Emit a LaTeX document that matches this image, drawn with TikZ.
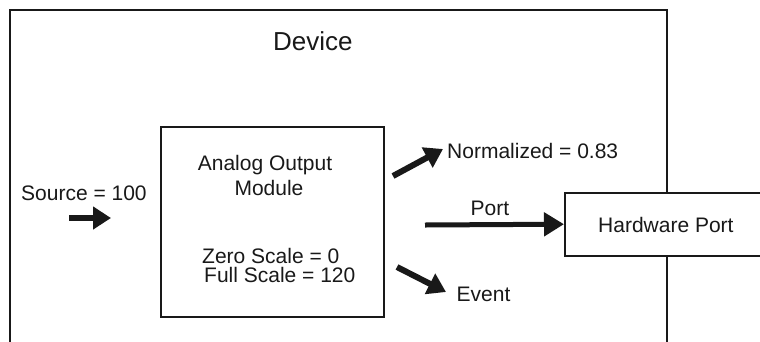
\documentclass[tikz,border=0pt]{standalone}
\usepackage{fontspec}
\setmainfont{Liberation Sans}
\usetikzlibrary{arrows.meta}
\begin{document}
\begin{tikzpicture}[x=1pt,y=-1pt,
  boxline/.style={draw=black!90,line width=2pt},
  lbl/.style={inner sep=0pt,anchor=base west,font=\fontsize{21}{24}\selectfont,text=black!90},
  bigarrow/.style={draw=black!90,line width=6pt,-{Triangle[length=18pt,width=22pt]}},
  midarrow/.style={draw=black!90,line width=5pt,-{Triangle[length=20pt,width=23pt]}}]
\useasboundingbox[fill=white] (0,0) rectangle (760,341);
% device
\draw[boxline] (9.5,350) -- (9.5,10) -- (666.5,10) -- (666.5,350);
\node[lbl,font=\fontsize{26}{30}\selectfont] (dev) at (273,50.7) {Device};
% module
\node[boxline,rectangle,minimum width=223pt,minimum height=189.5pt,inner sep=0pt] (mod) at (272.5,222) {};
\node[lbl,anchor=base] (ao) at (265,170) {Analog Output};
\node[lbl,anchor=base] (modl) at (269,195) {Module};
\node[lbl] (zs) at (202,263) {Zero Scale = 0};
\node[lbl] (fs) at (204,282) {Full Scale = 120};
% hardware port
\node[boxline,fill=white,rectangle,minimum width=240pt,minimum height=63pt,inner sep=0pt,anchor=west] (hw) at (564,224.2) {};
\node[lbl] (hwl) at (598,232.3) {Hardware Port};
% source
\node[lbl] (src) at (21,200.5) {Source = 100};
\coordinate (s0) at (69,218);
\coordinate (s1) at (111,218);
\draw[bigarrow] (s0) -- (s1);
% normalized
\coordinate (n0) at (393,176);
\coordinate (n1) at (443,149);
\draw[bigarrow] (n0) -- (n1);
\node[lbl] (norm) at (447,158.7) {Normalized = 0.83};
% port
\coordinate (p0) at (425,225);
\draw[midarrow] (p0) -- (hw.west);
\node[lbl] (port) at (470.5,215) {Port};
% event
\coordinate (e0) at (397,267);
\coordinate (e1) at (446,292);
\draw[bigarrow] (e0) -- (e1);
\node[lbl] (ev) at (456.5,301.7) {Event};
\end{tikzpicture}
\end{document}
